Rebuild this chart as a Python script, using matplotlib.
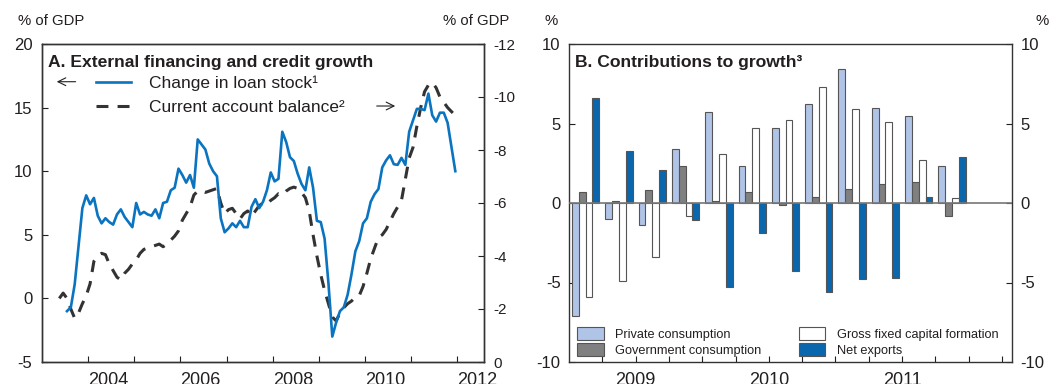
import matplotlib
matplotlib.use("Agg")
import matplotlib.pyplot as plt
import numpy as np
from matplotlib.patches import Patch
from matplotlib.ticker import FixedLocator, FixedFormatter

plt.rcParams['font.family'] = ['Liberation Sans', 'DejaVu Sans']
plt.rcParams['axes.unicode_minus'] = False

TEXT = '#231f20'

# ---------------- Panel A data (monthly) ----------------
loan_start = (2003, 7)          # first month of the loan-stock series
loan_stock_change = [
    -1.0, -0.7, 1.1, 4.1, 7.1, 8.1, 7.4, 7.9, 6.5, 5.9, 6.3, 6.0,
    5.8, 6.6, 7.0, 6.4, 6.0, 5.6, 7.5, 6.6, 6.8, 6.6, 6.5, 7.0,
    6.3, 7.5, 7.6, 8.5, 8.7, 10.2, 9.7, 9.1, 9.7, 8.7, 12.5, 12.1,
    11.7, 10.6, 10.0, 9.6, 6.3, 5.2, 5.5, 5.9, 5.6, 6.1, 5.6, 5.6,
    7.2, 7.8, 7.1, 7.6, 8.5, 9.9, 9.2, 9.4, 13.1, 12.3, 11.1, 10.8,
    9.8, 9.0, 8.5, 10.3, 8.7, 6.1, 6.0, 4.7, 1.2, -3.0, -1.9, -1.0,
    -0.7, 0.3, 1.9, 3.7, 4.5, 5.9, 6.3, 7.6, 8.2, 8.6, 10.3, 10.85,
    11.25, 10.55, 10.5, 11.05, 10.5, 13.1, 14.0, 14.9, 14.9, 14.8, 16.1, 14.4,
    13.9, 14.6, 14.6, 13.8, 11.9, 10.0,
]

ca_start = (2003, 5)            # first month of the current-account series
current_account = [
    -2.4, -2.6, -2.4, -2.0, -1.65, -1.85, -2.2, -2.5, -2.95, -3.8, -4.0, -4.1,
    -4.05, -3.7, -3.45, -3.2, -3.1, -3.35, -3.5, -3.7, -3.85, -4.1, -4.25, -4.3,
    -4.35, -4.4, -4.45, -4.35, -4.45, -4.6, -4.75, -4.95, -5.35, -5.6, -5.85, -6.3,
    -6.45, -6.45, -6.4, -6.45, -6.5, -6.55, -6.0, -5.6, -5.75, -5.8, -5.6, -5.4,
    -5.6, -5.7, -5.5, -5.7, -5.9, -6.0, -5.95, -6.1, -6.2, -6.35, -6.3, -6.45,
    -6.55, -6.6, -6.55, -6.4, -6.2, -5.7, -4.8, -4.0, -3.3, -2.7, -2.2, -1.7,
    -1.55, -1.85, -2.05, -2.2, -2.3, -2.45, -2.5, -2.85, -3.35, -3.9, -4.3, -4.7,
    -4.8, -5.0, -5.3, -5.6, -5.85, -6.1, -6.9, -7.7, -8.1, -8.9, -9.6, -10.2,
    -10.45, -10.55, -10.35, -10.0, -9.8, -9.6, -9.45, -9.3,
]

year_ticks_a = list(range(2004, 2013))
year_labels_a = ['2004', '', '2006', '', '2008', '', '2010', '', '2012']

# ---------------- Panel B data (quarterly, 2009Q1-2011Q4) ----------------
quarters = ['2009Q1', '2009Q2', '2009Q3', '2009Q4',
            '2010Q1', '2010Q2', '2010Q3', '2010Q4',
            '2011Q1', '2011Q2', '2011Q3', '2011Q4']
private_consumption = [-7.1, -1.0, -1.4, 3.4, 5.7, 2.3, 4.7, 6.2, 8.4, 6.0, 5.5, 2.3]
government_consumption = [0.7, 0.1, 0.8, 2.3, 0.1, 0.7, -0.1, 0.4, 0.9, 1.2, 1.3, -0.8]
gross_fixed_capital = [-5.9, -4.9, -3.4, -0.8, 3.1, 4.7, 5.2, 7.3, 5.9, 5.1, 2.7, 0.3]
net_exports = [6.6, 3.3, 2.1, -1.1, -5.3, -1.9, -4.3, -5.6, -4.8, -4.7, 0.4, 2.9]
year_labels_b = ['2009', '2010', '2011']

series_b = [
    ('Private consumption', private_consumption, '#b0c4e8'),
    ('Government consumption', government_consumption, '#808080'),
    ('Gross fixed capital formation', gross_fixed_capital, '#ffffff'),
    ('Net exports', net_exports, '#0a66ad'),
]


def month_positions(start, n):
    y, m = start
    return np.array([y + (m - 1 + k + 0.5) / 12.0 for k in range(n)])


fig = plt.figure(figsize=(10.5, 3.84), dpi=100)

# ======================= Panel A =======================
axA = fig.add_axes([42 / 1050, 22 / 384, 442 / 1050, 318 / 384])
axA2 = axA.twinx()

x_loan = month_positions(loan_start, len(loan_stock_change))
x_ca = month_positions(ca_start, len(current_account))

axA2.plot(x_ca, current_account, color='#333333', lw=2.2,
          linestyle=(0, (3.9, 3.0)), dash_capstyle='butt', zorder=2)
axA.plot(x_loan, loan_stock_change, color='#0a74c0', lw=1.9, zorder=3)
axA.set_zorder(axA2.get_zorder() + 1)
axA.patch.set_visible(False)

axA.set_xlim(2003.0, 2012.58)
axA.set_ylim(-5, 20)
axA2.set_ylim(0, -12)
axA.set_yticks([-5, 0, 5, 10, 15, 20])
axA2.set_yticks([-12, -10, -8, -6, -4, -2, 0])
axA.xaxis.set_major_locator(FixedLocator(year_ticks_a))
axA.xaxis.set_major_formatter(FixedFormatter(year_labels_a))
for lbl in axA.get_xticklabels():
    lbl.set_horizontalalignment('left')

axA.tick_params(axis='x', direction='in', length=4, pad=7, labelsize=13,
                colors=TEXT, top=False)
axA.tick_params(axis='y', direction='in', length=4, pad=7, labelsize=12,
                colors=TEXT)
axA2.tick_params(axis='y', direction='in', length=4, pad=7, labelsize=11,
                 colors=TEXT)
for ax in (axA, axA2):
    for s in ax.spines.values():
        s.set_color('#333333')
        s.set_linewidth(1.0)

axA.text(0.0136, 0.929, 'A. External financing and credit growth',
         transform=axA.transAxes, fontsize=12.6, fontweight='bold',
         color=TEXT, va='baseline', ha='left')

# legend rows drawn in axes coordinates
axA.plot([0.1222, 0.2014], [0.8814, 0.8814], transform=axA.transAxes,
         color='#0a74c0', lw=1.9, clip_on=False)
axA.plot([0.1222, 0.2014], [0.805, 0.805], transform=axA.transAxes,
         color='#333333', lw=2.2, linestyle=(0, (3.9, 3.0)),
         dash_capstyle='butt', clip_on=False)
axA.text(0.2414, 0.861, 'Change in loan stock\u00b9', transform=axA.transAxes,
         fontsize=12.5, color=TEXT, va='baseline', ha='left')
axA.text(0.2414, 0.787, 'Current account balance\u00b2', transform=axA.transAxes,
         fontsize=12.5, color=TEXT, va='baseline', ha='left')
axA.annotate('', xy=(0.0271, 0.8814), xytext=(0.0824, 0.8814),
             xycoords='axes fraction',
             arrowprops=dict(arrowstyle='->', lw=0.8, color=TEXT,
                             mutation_scale=14))
axA.annotate('', xy=(0.8054, 0.805), xytext=(0.751, 0.805),
             xycoords='axes fraction',
             arrowprops=dict(arrowstyle='->', lw=0.8, color=TEXT,
                             mutation_scale=14))

fig.text(18 / 1050, 1 - 21 / 384, '% of GDP', fontsize=10.7, color=TEXT,
         ha='left', va='center')
fig.text(509 / 1050, 1 - 21 / 384, '% of GDP', fontsize=10.7, color=TEXT,
         ha='right', va='center')

# ======================= Panel B =======================
axB = fig.add_axes([569 / 1050, 22 / 384, 443 / 1050, 318 / 384])
n_q = len(quarters)
slot = np.arange(n_q)
bar_w = 0.205
for k, (name, vals, col) in enumerate(series_b):
    axB.bar(slot + 0.5 + (k - 1.5) * bar_w, vals, width=bar_w, color=col,
            edgecolor='#555555', linewidth=0.8, zorder=3, label=name)
axB.axhline(0, color='#777777', lw=1.2, zorder=4)

axB.set_xlim(0, 13.3)
axB.set_ylim(-10, 10)
axB.set_yticks([-10, -5, 0, 5, 10])
tick_pos = list(range(1, 14))
tick_lab = [''] * len(tick_pos)
for j, yl in enumerate(year_labels_b):
    tick_lab[tick_pos.index(2 + 4 * j)] = yl
axB.xaxis.set_major_locator(FixedLocator(tick_pos))
axB.xaxis.set_major_formatter(FixedFormatter(tick_lab))
axB.tick_params(axis='x', direction='in', length=4, pad=7, labelsize=13,
                colors=TEXT)
axB.tick_params(axis='y', direction='in', length=4, pad=6, labelsize=12,
                colors=TEXT, right=True, labelright=True)
for s in axB.spines.values():
    s.set_color('#333333')
    s.set_linewidth(1.0)

axB.text(0.0135, 0.929, 'B. Contributions to growth\u00b3',
         transform=axB.transAxes, fontsize=12.6, fontweight='bold',
         color=TEXT, va='baseline', ha='left')

handles = [Patch(facecolor=c, edgecolor='#555555', linewidth=0.8, label=n)
           for n, _, c in series_b]
leg = axB.legend(handles=handles, ncol=2, loc='lower left',
                 bbox_to_anchor=(0.018, 0.015), frameon=False,
                 fontsize=9.2, handlelength=2.1, handleheight=1.2,
                 handletextpad=0.9, columnspacing=2.9, labelspacing=0.2,
                 borderpad=0, borderaxespad=0)
for t in leg.get_texts():
    t.set_color(TEXT)

fig.text(551 / 1050, 1 - 21 / 384, '%', fontsize=10.7, color=TEXT,
         ha='center', va='center')
fig.text(1049 / 1050, 1 - 21 / 384, '%', fontsize=10.7, color=TEXT,
         ha='right', va='center')

fig.savefig('out.png', dpi=100)
